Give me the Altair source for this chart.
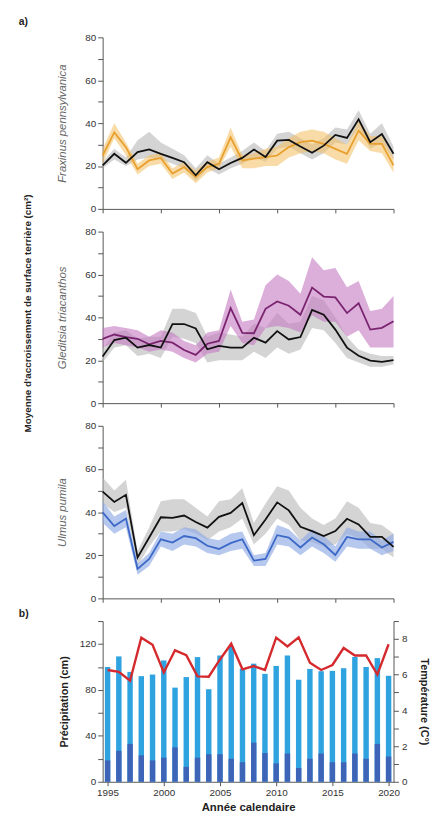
import altair as alt
import pandas as pd

FONT = "Liberation Sans"

years = list(range(1995, 2021))
tick_years = [1995, 2000, 2005, 2010, 2015, 2020]

species = ["Fraxinus pennsylvanica", "Gleditsia triacanthos", "Ulmus pumila"]
y_title_all = "Moyenne d'accroissement de surface terrière (cm²)"

frax_black = [20.3, 25.7, 21.5, 26.5, 27.7, 25.7, 23.8, 21.8, 15.7, 21.8, 18.5, 21.4, 23.8, 27.7, 24.2, 31.8, 32.2, 29.1, 26.2, 29.5, 34.5, 33.1, 41.8, 31.1, 34.9, 25.7]
frax_black_lo = [19, 23, 20, 23, 24, 23, 21, 19, 13, 19, 16, 19, 21, 24, 22, 28, 29, 26, 23, 26, 31, 30, 38, 28, 31, 23]
frax_black_hi = [22, 28, 24, 32, 36, 31, 28, 25, 19, 25, 21, 24, 27, 31, 27, 35, 36, 33, 30, 33, 38, 37, 46, 35, 40, 29]
frax = [24.9, 35.7, 28.8, 18.5, 22.6, 23.8, 16.5, 19.5, 14.9, 19.5, 21.0, 33.4, 22.6, 23.4, 24.2, 24.9, 28.8, 31.1, 31.8, 30.3, 28.0, 25.7, 36.5, 30.3, 30.3, 20.3]
frax_lo = [21, 33, 25, 16, 20, 21, 14, 17, 12, 17, 19, 29, 19, 19, 20, 20, 24, 26, 27, 26, 23, 21, 32, 27, 26, 17]
frax_hi = [28, 40, 31, 21, 25, 26, 19, 22, 18, 22, 24, 38, 25, 26, 28, 29, 33, 36, 37, 36, 33, 30, 41, 34, 34, 24]

gled_black = [21.8, 29.4, 30.5, 25.9, 27.1, 25.9, 36.9, 36.9, 34.8, 25.1, 26.7, 25.9, 25.9, 30.5, 28.2, 33.6, 29.7, 30.8, 43.5, 41.2, 34.3, 25.9, 22.1, 19.8, 19.3, 20.1]
gled_black_lo = [19, 26, 27, 22, 23, 21, 31, 30, 28, 19, 20, 20, 20, 24, 21, 26, 23, 25, 35, 34, 28, 21, 19, 17, 17, 18]
gled_black_hi = [25, 33, 34, 30, 31, 31, 44, 44, 42, 31, 33, 32, 31, 37, 35, 42, 37, 38, 50, 48, 40, 31, 25, 23, 22, 22]
gled = [30.0, 32.0, 30.8, 30.0, 27.4, 29.0, 28.2, 24.8, 22.5, 27.7, 29.0, 44.3, 32.8, 32.6, 44.0, 47.4, 45.4, 41.2, 53.9, 49.7, 49.3, 42.0, 46.6, 34.3, 35.1, 38.2]
gled_lo = [26, 28, 27, 26, 24, 25, 24, 21, 19, 23, 24, 36, 28, 27, 35, 36, 35, 33, 41, 38, 38, 31, 34, 26, 26, 26]
gled_hi = [35, 36, 35, 34, 31, 34, 33, 29, 27, 33, 34, 53, 38, 39, 55, 60, 57, 51, 68, 62, 63, 54, 57, 43, 44, 50]

ulm_black = [49.5, 44.7, 48.0, 19.0, 28.2, 37.6, 37.3, 38.4, 35.4, 32.8, 37.8, 39.6, 44.2, 29.3, 36.6, 44.5, 40.8, 33.2, 31.2, 28.9, 31.2, 36.9, 34.3, 28.5, 28.5, 23.9]
ulm_black_lo = [44, 40, 42, 15, 24, 31, 31, 32, 30, 27, 31, 33, 37, 25, 30, 37, 34, 27, 26, 24, 25, 30, 28, 23, 23, 19]
ulm_black_hi = [56, 50, 55, 22, 33, 45, 46, 46, 42, 38, 45, 46, 51, 35, 44, 52, 50, 42, 37, 34, 37, 45, 42, 35, 34, 30]
ulm = [39.9, 33.5, 37.0, 13.7, 18.3, 27.4, 25.9, 28.9, 27.9, 24.4, 22.9, 25.6, 27.4, 17.5, 18.3, 29.3, 28.2, 23.6, 28.2, 25.1, 20.1, 28.5, 27.4, 27.4, 23.6, 26.2]
ulm_lo = [35, 30, 33, 11, 15, 24, 22, 25, 24, 21, 20, 22, 23, 15, 15, 25, 24, 20, 24, 21, 17, 24, 23, 23, 20, 22]
ulm_hi = [45, 38, 41, 16, 21, 31, 30, 33, 32, 28, 27, 30, 31, 20, 21, 34, 32, 27, 32, 29, 24, 33, 31, 31, 27, 30]

precip_total = [100, 109.2, 95.7, 92, 93.4, 105.7, 82, 91.2, 108.6, 80.6, 110, 118, 98.6, 102.9, 94, 100.9, 110, 88.9, 98.3, 96.3, 96.6, 98.9, 108.6, 100, 107.7, 92.3]
precip_dark = [18.6, 27, 33, 23, 18.6, 21, 30, 13, 21, 24, 24, 20, 17, 34, 25, 16, 24.6, 12, 20, 24.6, 17, 17, 24.6, 20, 33, 22]
temp = [6.26, 6.16, 5.66, 8.07, 7.67, 6.12, 7.36, 7.09, 5.9, 5.88, 6.85, 7.73, 6.3, 6.48, 6.26, 8.07, 7.58, 8.09, 6.67, 6.26, 6.54, 7.49, 7.07, 7.07, 6.0, 7.7]

W = 295
AXC = "#555555"
LBL = "#333333"

xscale = alt.Scale(domain=[1995, 2020], nice=False, zero=False)


def panel(title, bm, blo, bhi, cm, clo, chi, line_color, band_color, band_op, height, extra=None):
    df = pd.DataFrame({"year": years, "bm": bm, "blo": blo, "bhi": bhi,
                       "cm": cm, "clo": clo, "chi": chi})
    xax = alt.Axis(values=tick_years, labels=False, title=None, ticks=True, tickSize=4,
                   grid=False, domainColor=AXC, tickColor=AXC)
    yax = alt.Axis(values=list(range(0, 81, 10)), labelExpr="datum.value % 20 == 0 ? datum.label : ''",
                   title=title, titleFontStyle="italic", titleFontWeight="normal", titleColor="#666666",
                   titleFontSize=11.5, titleFont=FONT, titlePadding=18, tickSize=5, labelPadding=2,
                   labelFontSize=10, labelColor=LBL, labelFont=FONT, grid=False,
                   domainColor=AXC, tickColor=AXC)
    ysc = alt.Scale(domain=[0, 80], nice=False)
    base = alt.Chart(df)
    x = alt.X("year:Q", scale=xscale, axis=xax)
    gray = base.mark_area(color="#b8b8b8", opacity=0.6).encode(
        x=x, y=alt.Y("blo:Q", scale=ysc, axis=yax), y2="bhi:Q")
    cband = base.mark_area(color=band_color, opacity=band_op).encode(
        x=x, y=alt.Y("clo:Q", scale=ysc, axis=yax), y2="chi:Q")
    cline = base.mark_line(color=line_color, strokeWidth=1.8).encode(
        x=x, y=alt.Y("cm:Q", scale=ysc, axis=yax))
    bline = base.mark_line(color="#111111", strokeWidth=1.8).encode(
        x=x, y=alt.Y("bm:Q", scale=ysc, axis=yax))
    layers = [gray, cband, cline, bline]
    if extra is not None:
        layers += extra
    return alt.layer(*layers).properties(width=W, height=height)


lab_a = alt.Chart(pd.DataFrame({"t": ["a)"]})).mark_text(
    align="left", baseline="top", fontWeight="bold", fontSize=10.5, font=FONT, color="#222222"
).encode(text="t:N", x=alt.value(-85), y=alt.value(-21))

ytitle = alt.Chart(pd.DataFrame({"t": [y_title_all]})).mark_text(
    angle=270, align="center", baseline="middle", fontWeight="bold", fontSize=10, font=FONT,
    color="#222222"
).encode(text="t:N", x=alt.value(-76), y=alt.value(83))

p1 = panel(species[0], frax_black, frax_black_lo, frax_black_hi, frax, frax_lo, frax_hi,
           "#E8A02E", "#F2BE5E", 0.55, 174, [lab_a])
p2 = panel(species[1], gled_black, gled_black_lo, gled_black_hi, gled, gled_lo, gled_hi,
           "#7A2470", "#C57AC2", 0.6, 174, [ytitle])
p3 = panel(species[2], ulm_black, ulm_black_lo, ulm_black_hi, ulm, ulm_lo, ulm_hi,
           "#3C68C8", "#8FAAE4", 0.65, 175)

# Panel b
dfb = pd.DataFrame({"year": years, "total": precip_total, "dark": precip_dark, "temp": temp})
xax_b = alt.Axis(values=tick_years, format="d", title="Année calendaire", titleFontWeight="bold",
                 titleFontSize=11.5, titleFont=FONT, titleColor="#222222", titlePadding=4,
                 labelFontSize=10, labelColor=LBL, labelFont=FONT, tickSize=4, labelPadding=2,
                 grid=False, domainColor=AXC, tickColor=AXC)
xb = alt.X("year:Q", scale=xscale, axis=xax_b)
psc = alt.Scale(domain=[0, 140], nice=False)
pax = alt.Axis(values=list(range(0, 141, 20)), labelExpr="datum.value % 40 == 0 ? datum.label : ''",
               title="Précipitation (cm)", titleFontWeight="bold", titleFontSize=11, titleFont=FONT,
               titleColor="#222222", titlePadding=10, tickSize=5, labelPadding=2, labelFontSize=10,
               labelColor=LBL, labelFont=FONT, grid=False, domainColor=AXC, tickColor=AXC)
bars_light = alt.Chart(dfb).mark_bar(size=5.5, color="#2EA3E0").encode(
    x=xb, y=alt.Y("total:Q", scale=psc, axis=pax))
bars_dark = alt.Chart(dfb).mark_bar(size=5.5, color="#3F5DB3", opacity=0.9).encode(
    x=xb, y=alt.Y("dark:Q", scale=psc, axis=None))
tax = alt.Axis(orient="right", values=list(range(0, 10)),
               labelExpr="datum.value % 2 == 0 ? datum.label : ''",
               title="Température (C°)", titleFontWeight="bold", titleFontSize=11, titleFont=FONT,
               titleColor="#222222", titlePadding=12, tickSize=5, labelPadding=3, labelFontSize=10,
               labelColor=LBL, labelFont=FONT, grid=False, domainColor=AXC, tickColor=AXC)
tline = alt.Chart(dfb).mark_line(color="#D42A2E", strokeWidth=2.4).encode(
    x=xb, y=alt.Y("temp:Q", scale=alt.Scale(domain=[0, 9], nice=False), axis=tax))
lab_b = alt.Chart(pd.DataFrame({"t": ["b)"]})).mark_text(
    align="left", baseline="top", fontWeight="bold", fontSize=10.5, font=FONT, color="#222222"
).encode(text="t:N", x=alt.value(-85), y=alt.value(-12))

pb = alt.layer(bars_light, bars_dark, tline, lab_b).resolve_scale(
    y="independent").properties(width=W, height=163)

chart = alt.vconcat(p1, p2, p3, pb, spacing=23, bounds="flush").properties(
    padding={"left": 11, "top": 3, "right": 0, "bottom": 0}
).configure_view(stroke=None).configure_axis(grid=False)

chart.save("out.html", embed_options={"renderer": "svg", "actions": False})
